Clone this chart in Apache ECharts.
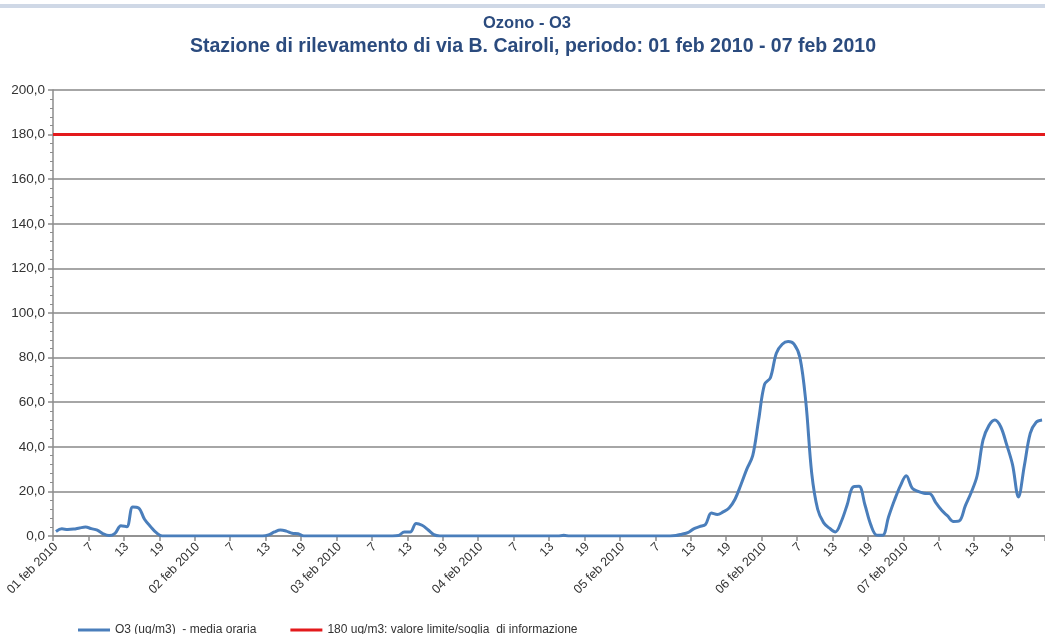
<!DOCTYPE html>
<html>
<head>
<meta charset="utf-8">
<script src="https://cdn.jsdelivr.net/npm/echarts@6/dist/echarts.min.js"></script>
<style>
  html, body { margin: 0; padding: 0; background: #ffffff; }
  #chart { width: 1045px; height: 634px; }
</style>
</head>
<body>
<div id="chart"></div>
<script>
// ---- Data ----
const TITLE = 'Ozono - O3';
const SUBTITLE = 'Stazione di rilevamento di via B. Cairoli, periodo: 01 feb 2010 - 07 feb 2010';
const DAYS = ['01 feb 2010', '02 feb 2010', '03 feb 2010', '04 feb 2010', '05 feb 2010', '06 feb 2010', '07 feb 2010'];
const HOURS = ['1','2','3','4','5','6','7','8','9','10','11','12','13','14','15','16','17','18','19','20','21','22','23','24'];
const Y_TICKS = [0, 20, 40, 60, 80, 100, 120, 140, 160, 180, 200];
const SERIES_O3_NAME = 'O3 (ug/m3)  - media oraria';
const SERIES_LIMIT_NAME = '180 ug/m3: valore limite/soglia  di informazione';
const LIMIT_VALUE = 180;

// hourly O3 values (ug/m3), one array per day, hours 1..24
const o3_01feb = [2.0, 3.2, 2.9, 3.1, 3.6, 4.0, 3.3, 2.6, 1.0, 0.2, 1.2, 4.6, 4.2, 13.0, 12.6, 7.5, 4.3, 1.5, 0, 0, 0, 0, 0, 0];
const o3_02feb = [0, 0, 0, 0, 0, 0, 0, 0, 0, 0, 0, 0, 0.5, 1.8, 2.7, 2.2, 1.2, 1.0, 0, 0, 0, 0, 0, 0];
const o3_03feb = [0, 0, 0, 0, 0, 0, 0, 0, 0, 0, 0.2, 1.8, 1.8, 5.6, 4.8, 2.8, 0.6, 0, 0, 0, 0, 0, 0, 0];
const o3_04feb = [0, 0, 0, 0, 0, 0, 0, 0, 0, 0, 0, 0, 0, 0, 0.3, 0, 0, 0, 0, 0, 0, 0, 0, 0];
const o3_05feb = [0, 0, 0, 0, 0, 0, 0, 0, 0, 0.2, 0.8, 1.5, 3.2, 4.2, 5.2, 10.3, 9.6, 10.8, 12.6, 16.5, 23.0, 30.0, 36.0, 52.0];
const o3_06feb = [68.0, 71.0, 82.0, 86.0, 87.2, 86.0, 80.0, 60.0, 28.0, 12.0, 6.0, 3.5, 1.8, 6.5, 14.0, 22.0, 22.3, 14.0, 5.0, 0.4, 0.3, 8.5, 16.0, 22.5];
const o3_07feb = [27.0, 21.5, 20.0, 19.2, 19.0, 15.0, 11.5, 9.0, 6.5, 6.8, 13.5, 19.5, 27.0, 43.0, 49.5, 52.0, 49.0, 41.0, 32.0, 17.5, 31.5, 46.0, 51.0, 52.0];

// ---- Build categories and series from the arrays ----
const categories = [];
DAYS.forEach(function (d) {
  HOURS.forEach(function (h, k) { categories.push(k === 0 ? d : h); });
});
const o3Values = [].concat(o3_01feb, o3_02feb, o3_03feb, o3_04feb, o3_05feb, o3_06feb, o3_07feb);

const chart = echarts.init(document.getElementById('chart'), null, { renderer: 'canvas' });
const FONT = 'Liberation Sans, Arial, sans-serif';
const option = {
  animation: false,
  backgroundColor: '#ffffff',
  graphic: [{
    type: 'rect', left: 0, top: 4, shape: { width: 1045, height: 4 },
    style: { fill: '#cfd8e6' }, silent: true
  }],
  title: [{
    text: TITLE, left: 522, textAlign: 'center', top: 10,
    textStyle: { fontFamily: FONT, fontSize: 16.5, fontWeight: 'bold', color: '#2b4b7e' }
  }, {
    text: SUBTITLE, left: 528, textAlign: 'center', top: 32,
    textStyle: { fontFamily: FONT, fontSize: 19.5, fontWeight: 'bold', color: '#2b4b7e' }
  }],
  legend: {
    left: 73, top: 619,
    icon: 'rect', itemWidth: 32, itemHeight: 3, itemGap: 34,
    textStyle: { fontFamily: FONT, fontSize: 12, color: '#333' },
    data: [SERIES_O3_NAME, SERIES_LIMIT_NAME]
  },
  grid: { left: 53, right: -4, top: 90, bottom: 98, containLabel: false },
  xAxis: {
    type: 'category',
    data: categories,
    boundaryGap: true,
    axisLine: { lineStyle: { color: '#8c8c8c', width: 1.5 } },
    axisTick: { show: true, interval: 5, length: 5, lineStyle: { color: '#8c8c8c', width: 1.5 } },
    axisLabel: {
      interval: 5, rotate: 45, margin: 9,
      fontFamily: FONT, fontSize: 12.5, color: '#333'
    },
    splitLine: { show: false }
  },
  yAxis: {
    type: 'value',
    min: Y_TICKS[0], max: Y_TICKS[Y_TICKS.length - 1], interval: Y_TICKS[1] - Y_TICKS[0],
    axisLine: { show: true, lineStyle: { color: '#8c8c8c', width: 1.5 } },
    axisTick: { show: true, inside: false, length: 5, lineStyle: { color: '#8c8c8c', width: 1.5 } },
    minorTick: { show: true, splitNumber: 5, length: 3, lineStyle: { color: '#8c8c8c' } },
    axisLabel: {
      margin: 8, fontFamily: FONT, fontSize: 13.5, color: '#333',
      formatter: function (v) { return v.toFixed(1).replace('.', ','); }
    },
    splitLine: { show: true, lineStyle: { color: '#888888', width: 1.5 } }
  },
  series: [{
    name: SERIES_O3_NAME,
    type: 'line',
    data: o3Values,
    smooth: 0.35,
    showSymbol: false,
    itemStyle: { color: '#4a7ebb' },
    lineStyle: { color: '#4a7ebb', width: 3 },
    z: 3
  }, {
    name: SERIES_LIMIT_NAME,
    type: 'line',
    data: [],
    showSymbol: false,
    itemStyle: { color: '#e31a1c' },
    lineStyle: { color: '#e31a1c', width: 3 },
    markLine: {
      silent: true, symbol: 'none', label: { show: false },
      lineStyle: { color: '#e31a1c', width: 3, type: 'solid' },
      data: [{ yAxis: LIMIT_VALUE }]
    },
    z: 4
  }]
};
chart.setOption(option);
</script>
</body>
</html>
